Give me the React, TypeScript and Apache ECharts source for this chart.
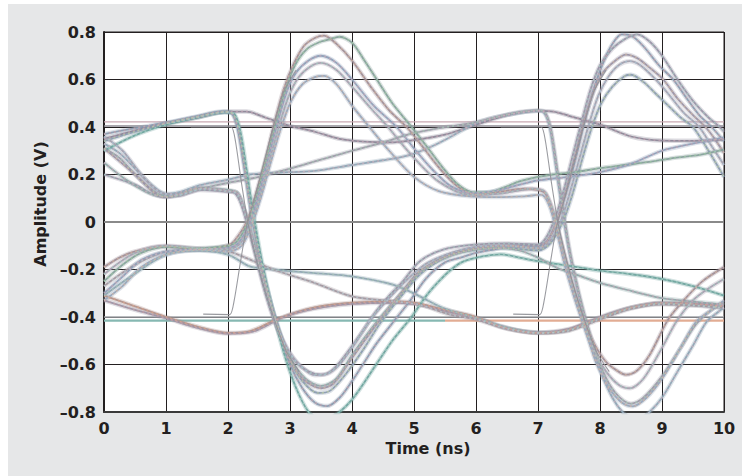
import React, { useEffect, useRef } from 'react';
import * as echarts from 'echarts';

type Pt = [number, number];

// ---- axis ranges / ticks ----
const xMin = 0, xMax = 10, xStep = 1;
const yMin = -0.8, yMax = 0.8, yStep = 0.2;
const xTitle = 'Time (ns)';
const yTitle = 'Amplitude (V)';

// ---- reference lines ----
const zeroLine: Pt[] = [[0, 0], [10, 0]];
const flatHiA: Pt[] = [[0, 0.422], [10, 0.422]];
const flatHiB: Pt[] = [[0, 0.404], [10, 0.404]];
const flatLoA: Pt[] = [[0, -0.4], [10, -0.4]];
const flatLoB1: Pt[] = [[0, -0.415], [5.5, -0.415]];
const flatLoB2: Pt[] = [[5.5, -0.415], [10, -0.415]];

// ---- thin transition traces ----
const thinDown1: Pt[] = [[1.4, 0.4], [2.05, 0.4], [2.12, 0.34], [2.22, 0.16], [2.32, 0.0], [2.47, -0.17], [2.62, -0.31], [2.8, -0.45], [2.95, -0.55], [3.15, -0.63]];
const thinUp1: Pt[] = [[1.6, -0.388], [2.03, -0.39], [2.1, -0.33], [2.2, -0.17], [2.3, -0.02], [2.45, 0.12], [2.6, 0.27], [2.75, 0.42], [2.9, 0.55], [3.1, 0.64]];
const thinDown2: Pt[] = [[6.4, 0.4], [7.05, 0.4], [7.12, 0.34], [7.22, 0.16], [7.32, 0.0], [7.47, -0.17], [7.62, -0.31], [7.8, -0.45], [7.95, -0.55], [8.15, -0.63]];
const thinUp2: Pt[] = [[6.6, -0.388], [7.03, -0.39], [7.1, -0.33], [7.2, -0.17], [7.3, -0.02], [7.45, 0.12], [7.6, 0.27], [7.75, 0.42], [7.9, 0.55], [8.1, 0.64]];

// ---- eye traces ----
const hhStay: Pt[] = [[0, 0.35], [0.5, 0.385], [1, 0.415], [1.5, 0.44], [2, 0.465], [2.3, 0.465], [2.6, 0.44], [3, 0.405], [3.4, 0.38], [3.8, 0.35], [4.2, 0.338], [4.6, 0.335], [5, 0.345], [5.5, 0.368], [6, 0.41], [6.5, 0.45], [7, 0.468], [7.25, 0.465], [7.5, 0.447], [8, 0.41], [8.5, 0.36], [9, 0.343], [9.5, 0.342], [10, 0.347]];
const hhFallA: Pt[] = [[0, 0.37], [0.5, 0.395], [1, 0.418], [1.5, 0.445], [1.9, 0.465], [2.05, 0.46], [2.15, 0.4], [2.25, 0.25], [2.35, 0.08], [2.5, -0.14], [2.65, -0.3], [2.8, -0.44], [3.0, -0.6], [3.2, -0.7], [3.4, -0.76], [3.6, -0.775], [3.8, -0.74], [4.0, -0.67], [4.2, -0.59], [4.4, -0.51], [4.73, -0.4], [4.93, -0.334], [5.2, -0.236], [5.5, -0.17], [5.75, -0.15], [6.0, -0.13], [6.3, -0.115], [6.6, -0.1], [7.0, -0.1], [7.15, -0.08], [7.3, 0.0], [7.45, 0.12], [7.6, 0.26], [7.75, 0.42], [7.9, 0.56], [8.05, 0.67], [8.2, 0.75], [8.35, 0.79], [8.5, 0.785], [8.7, 0.74], [8.95, 0.66], [9.18, 0.6], [9.4, 0.52], [9.6, 0.45], [9.8, 0.4], [10, 0.34]];
const hhFallB: Pt[] = [[0, 0.3], [0.5, 0.365], [1, 0.41], [1.5, 0.44], [1.95, 0.462], [2.1, 0.455], [2.2, 0.38], [2.3, 0.22], [2.4, 0.05], [2.55, -0.17], [2.7, -0.35], [2.9, -0.55], [3.1, -0.7], [3.3, -0.8], [3.5, -0.84], [3.7, -0.82], [4.0, -0.748], [4.39, -0.6], [4.65, -0.5], [4.96, -0.4], [5.2, -0.31], [5.4, -0.25], [5.6, -0.2], [5.8, -0.166], [6.1, -0.145], [6.4, -0.136], [6.7, -0.15], [7.0, -0.165], [7.5, -0.185], [8.0, -0.205], [8.5, -0.22], [9.0, -0.24], [9.5, -0.27], [10, -0.31]];
const hhFallC: Pt[] = [[0, 0.34], [0.5, 0.38], [1, 0.415], [1.5, 0.443], [1.95, 0.463], [2.08, 0.455], [2.17, 0.39], [2.27, 0.23], [2.37, 0.05], [2.5, -0.13], [2.65, -0.3], [2.82, -0.45], [3.0, -0.58], [3.2, -0.67], [3.45, -0.72], [3.65, -0.71], [3.9, -0.64], [4.2, -0.53], [4.47, -0.42], [4.8, -0.31], [5.1, -0.22], [5.5, -0.15], [6.0, -0.115], [6.5, -0.11], [7.0, -0.12], [7.2, -0.09], [7.4, 0], [7.56, 0.12], [7.72, 0.27], [7.87, 0.4], [8.02, 0.5], [8.2, 0.57], [8.4, 0.615], [8.5, 0.62], [8.7, 0.59], [8.9, 0.54], [9.1, 0.49], [9.3, 0.44], [9.5, 0.4], [9.75, 0.3], [10, 0.19]];
const slowRiseA: Pt[] = [[0, 0.33], [0.25, 0.29], [0.5, 0.225], [0.75, 0.16], [1, 0.118], [1.25, 0.128], [1.55, 0.155], [2, 0.178], [2.35, 0.2], [3, 0.21], [3.4, 0.215], [4, 0.24], [4.5, 0.26], [4.94, 0.283], [5.3, 0.32], [5.6, 0.36], [5.95, 0.41], [6.3, 0.44], [6.7, 0.46], [7.0, 0.468], [7.08, 0.465], [7.18, 0.41], [7.28, 0.25], [7.38, 0.07], [7.5, -0.12], [7.65, -0.3], [7.8, -0.45], [8.0, -0.62], [8.2, -0.74], [8.4, -0.81], [8.6, -0.84], [8.8, -0.8], [9.0, -0.74], [9.25, -0.63], [9.5, -0.52], [9.72, -0.42], [9.9, -0.38], [10, -0.36]];
const slowRiseB: Pt[] = [[0, 0.31], [0.25, 0.27], [0.5, 0.2], [0.75, 0.14], [1, 0.105], [1.25, 0.115], [1.55, 0.14], [2, 0.165], [2.5, 0.19], [3, 0.225], [3.4, 0.255], [4, 0.3], [4.5, 0.335], [4.93, 0.37], [5.4, 0.395], [5.9, 0.415], [6.3, 0.44], [6.7, 0.463], [7.0, 0.47], [7.1, 0.465], [7.2, 0.4], [7.3, 0.24], [7.4, 0.06], [7.52, -0.13], [7.68, -0.32], [7.85, -0.48], [8.05, -0.63], [8.25, -0.72], [8.5, -0.765], [8.7, -0.74], [9.0, -0.65], [9.3, -0.53], [9.55, -0.43], [9.8, -0.37], [10, -0.34]];
const dipFallA: Pt[] = [[0, 0.2], [0.5, 0.157], [0.9, 0.108], [1.2, 0.11], [1.55, 0.135], [2, 0.128], [2.12, 0.12], [2.22, 0.07], [2.32, -0.02], [2.45, -0.15], [2.6, -0.3], [2.75, -0.42], [2.9, -0.51], [3.1, -0.59], [3.3, -0.63], [3.5, -0.643], [3.7, -0.62], [4.0, -0.523], [4.2, -0.45], [4.39, -0.376], [4.6, -0.31], [4.82, -0.25], [5.09, -0.166], [5.47, -0.116], [6.0, -0.095], [6.5, -0.09], [7.0, -0.095], [7.12, -0.07], [7.25, 0.0], [7.4, 0.12], [7.55, 0.27], [7.7, 0.42], [7.85, 0.56], [8.0, 0.66], [8.2, 0.73], [8.4, 0.77], [8.6, 0.79], [8.8, 0.76], [9.0, 0.7], [9.25, 0.6], [9.5, 0.51], [9.75, 0.44], [9.93, 0.4], [10, 0.38]];
const dipFallB: Pt[] = [[0, 0.31], [0.5, 0.2], [0.85, 0.115], [1.0, 0.105], [1.25, 0.12], [1.55, 0.143], [2, 0.13], [2.14, 0.125], [2.25, 0.06], [2.35, -0.03], [2.5, -0.18], [2.65, -0.32], [2.8, -0.45], [3.0, -0.58], [3.2, -0.66], [3.5, -0.7], [3.7, -0.68], [4.0, -0.573], [4.2, -0.5], [4.39, -0.432], [4.6, -0.36], [4.82, -0.29], [5.09, -0.208], [5.58, -0.138], [6.0, -0.11], [6.5, -0.1], [7.0, -0.11], [7.15, -0.08], [7.3, 0.0], [7.45, 0.13], [7.6, 0.28], [7.75, 0.43], [7.9, 0.55], [8.05, 0.63], [8.25, 0.68], [8.42, 0.705], [8.6, 0.69], [8.8, 0.65], [9.02, 0.6], [9.25, 0.52], [9.5, 0.45], [9.7, 0.4], [9.85, 0.35], [10, 0.29]];
const dipFallC: Pt[] = [[0, 0.25], [0.4, 0.17], [0.8, 0.115], [1.1, 0.11], [1.5, 0.14], [2, 0.135], [2.16, 0.12], [2.27, 0.05], [2.38, -0.05], [2.52, -0.19], [2.67, -0.33], [2.82, -0.46], [3.0, -0.57], [3.25, -0.66], [3.5, -0.69], [3.75, -0.66], [4.0, -0.56], [4.4, -0.42], [4.8, -0.3], [5.1, -0.21], [5.5, -0.15], [6.0, -0.115], [6.4, -0.11], [6.7, -0.12], [7.0, -0.15], [7.3, -0.192], [7.65, -0.225], [8.0, -0.256], [8.5, -0.29], [8.97, -0.319], [9.5, -0.335], [10, -0.347]];
const dipFallD: Pt[] = [[0, 0.36], [0.3, 0.3], [0.6, 0.2], [0.9, 0.125], [1.2, 0.115], [1.6, 0.14], [2, 0.13], [2.15, 0.12], [2.25, 0.06], [2.35, -0.03], [2.48, -0.17], [2.63, -0.31], [2.78, -0.43], [2.95, -0.53], [3.15, -0.6], [3.4, -0.645], [3.6, -0.64], [3.8, -0.6], [4.0, -0.53], [4.3, -0.41], [4.6, -0.32], [4.9, -0.24], [5.2, -0.175], [5.6, -0.13], [6.0, -0.105], [6.5, -0.1], [7.0, -0.11], [7.18, -0.085], [7.36, 0], [7.52, 0.13], [7.67, 0.27], [7.82, 0.41], [7.97, 0.53], [8.13, 0.61], [8.3, 0.66], [8.48, 0.677], [8.65, 0.66], [8.9, 0.6], [9.1, 0.54], [9.35, 0.46], [9.6, 0.4], [9.8, 0.32], [10, 0.24]];
const lowRiseA: Pt[] = [[0, -0.19], [0.25, -0.15], [0.5, -0.124], [1, -0.102], [1.55, -0.115], [2, -0.098], [2.1, -0.08], [2.3, 0.0], [2.45, 0.12], [2.6, 0.26], [2.75, 0.42], [2.9, 0.56], [3.05, 0.66], [3.22, 0.74], [3.4, 0.775], [3.55, 0.785], [3.75, 0.75], [4.0, 0.68], [4.3, 0.57], [4.6, 0.47], [4.88, 0.4], [5.1, 0.33], [5.4, 0.23], [5.7, 0.15], [6.0, 0.115], [6.33, 0.125], [6.78, 0.14], [7.0, 0.135], [7.12, 0.12], [7.22, 0.06], [7.32, -0.03], [7.45, -0.16], [7.6, -0.3], [7.75, -0.42], [7.9, -0.51], [8.1, -0.59], [8.3, -0.63], [8.42, -0.643], [8.6, -0.625], [8.8, -0.56], [9.1, -0.41], [9.35, -0.33], [9.65, -0.25], [10, -0.19]];
const lowRiseB: Pt[] = [[0, -0.25], [0.3, -0.18], [0.6, -0.13], [1, -0.105], [1.5, -0.11], [2, -0.1], [2.15, -0.08], [2.32, 0.0], [2.47, 0.12], [2.62, 0.27], [2.77, 0.41], [2.92, 0.55], [3.08, 0.66], [3.28, 0.73], [3.5, 0.76], [3.65, 0.77], [3.8, 0.78], [4.0, 0.755], [4.2, 0.68], [4.4, 0.6], [4.65, 0.5], [4.93, 0.41], [5.2, 0.32], [5.47, 0.227], [5.7, 0.16], [5.95, 0.125], [6.2, 0.125], [6.45, 0.145], [6.7, 0.171], [7.0, 0.19], [7.24, 0.2], [7.6, 0.21], [8.0, 0.227], [8.4, 0.24], [8.85, 0.255], [9.2, 0.27], [9.6, 0.283], [10, 0.305]];
const lowRiseC: Pt[] = [[0, -0.3], [0.3, -0.23], [0.6, -0.16], [1, -0.125], [1.5, -0.115], [2, -0.11], [2.18, -0.085], [2.35, 0.0], [2.5, 0.12], [2.65, 0.27], [2.8, 0.42], [2.95, 0.55], [3.1, 0.63], [3.3, 0.68], [3.5, 0.7], [3.75, 0.67], [4.0, 0.6], [4.35, 0.49], [4.72, 0.4], [5.0, 0.31], [5.3, 0.22], [5.6, 0.15], [5.95, 0.122], [6.3, 0.13], [6.6, 0.15], [7.0, 0.175], [7.5, 0.19], [8.0, 0.21], [8.5, 0.245], [9.0, 0.3], [9.5, 0.33], [10, 0.355]];
const lowRiseD: Pt[] = [[0, -0.22], [0.5, -0.13], [1, -0.1], [1.5, -0.11], [2, -0.115], [2.2, -0.09], [2.38, 0.0], [2.53, 0.12], [2.68, 0.27], [2.83, 0.41], [2.98, 0.53], [3.14, 0.61], [3.33, 0.655], [3.5, 0.67], [3.75, 0.64], [4.0, 0.57], [4.3, 0.48], [4.58, 0.4], [4.8, 0.33], [5.0, 0.27], [5.4, 0.17], [5.9, 0.115], [6.4, 0.12], [6.9, 0.14], [7.1, 0.13], [7.2, 0.08], [7.3, 0.0], [7.42, -0.13], [7.57, -0.28], [7.72, -0.41], [7.9, -0.54], [8.1, -0.63], [8.3, -0.685], [8.48, -0.7], [8.7, -0.66], [9.0, -0.53], [9.23, -0.42], [9.5, -0.33], [9.75, -0.28], [10, -0.24]];
const lowRiseE: Pt[] = [[0, -0.33], [0.3, -0.27], [0.6, -0.19], [1, -0.138], [1.55, -0.117], [2, -0.124], [2.22, -0.1], [2.4, 0.0], [2.55, 0.12], [2.7, 0.26], [2.86, 0.4], [3.02, 0.51], [3.2, 0.58], [3.4, 0.61], [3.55, 0.615], [3.75, 0.58], [4.0, 0.49], [4.28, 0.4], [4.6, 0.3], [5.0, 0.19], [5.4, 0.13], [5.9, 0.108], [6.3, 0.105], [6.78, 0.108], [7.05, 0.115], [7.18, 0.07], [7.3, -0.04], [7.45, -0.2], [7.6, -0.33], [7.78, -0.47], [7.95, -0.6], [8.15, -0.7], [8.35, -0.76], [8.53, -0.776], [8.75, -0.74], [9.0, -0.66], [9.3, -0.53], [9.55, -0.42], [9.8, -0.37], [10, -0.33]];
const lowSlowA: Pt[] = [[0, -0.31], [0.47, -0.222], [1, -0.138], [1.5, -0.12], [2, -0.137], [2.35, -0.187], [2.73, -0.2], [3.4, -0.215], [4, -0.229], [4.66, -0.264], [5.04, -0.306], [5.47, -0.362], [6, -0.404], [6.5, -0.445], [7, -0.466], [7.5, -0.455], [8, -0.404], [8.5, -0.362], [9, -0.343], [9.5, -0.35], [10, -0.36]];
const lowSlowB: Pt[] = [[0, -0.27], [0.5, -0.18], [1, -0.125], [1.55, -0.117], [2, -0.124], [2.3, -0.152], [2.73, -0.2], [3.4, -0.257], [4, -0.313], [4.66, -0.334], [5.09, -0.348], [5.58, -0.39], [6, -0.41], [6.5, -0.45], [7, -0.468], [7.5, -0.458], [8, -0.41], [8.5, -0.365], [9, -0.347], [9.5, -0.352], [10, -0.362]];
const llStayA: Pt[] = [[0, -0.31], [0.5, -0.355], [1, -0.4], [1.5, -0.44], [2, -0.467], [2.35, -0.46], [2.84, -0.404], [3.4, -0.36], [4, -0.34], [4.66, -0.335], [5, -0.34], [5.5, -0.37], [6, -0.4], [6.4, -0.44], [7, -0.467], [7.5, -0.453], [8, -0.404], [8.48, -0.362], [9, -0.341], [9.5, -0.345], [10, -0.355]];
const llStayB: Pt[] = [[0, -0.33], [0.5, -0.37], [1, -0.405], [1.5, -0.445], [2, -0.47], [2.4, -0.462], [2.9, -0.4], [3.4, -0.365], [4, -0.345], [4.7, -0.34], [5, -0.345], [5.5, -0.375], [6, -0.405], [6.5, -0.448], [7, -0.465], [7.5, -0.45], [8, -0.4], [8.5, -0.36], [9, -0.34], [10, -0.352]];

// colour of each trace (core) and of its speckle overlay
const traces: { data: Pt[]; color: string; speck: string }[] = [
  { data: llStayA, color: '#b0928c', speck: '#d8a58f' },
  { data: llStayB, color: '#9c94a4', speck: '#c4a1a9' },
  { data: lowSlowA, color: '#8ea4b2', speck: '#a9c6b8' },
  { data: lowSlowB, color: '#a3979f', speck: '#b7c7cf' },
  { data: hhStay, color: '#8b8797', speck: '#c3a6b4' },
  { data: slowRiseA, color: '#8fa5b5', speck: '#c9b2bd' },
  { data: slowRiseB, color: '#9d9aa8', speck: '#a8c6b6' },
  { data: hhFallA, color: '#8a9bb0', speck: '#c8a6ae' },
  { data: hhFallB, color: '#6fa39e', speck: '#a5cfc4' },
  { data: hhFallC, color: '#8b9cb0', speck: '#b9c9a8' },
  { data: dipFallA, color: '#9a95a8', speck: '#a8c6c0' },
  { data: dipFallB, color: '#9b94a6', speck: '#c9b4a4' },
  { data: dipFallC, color: '#8fa8a8', speck: '#c4a8b8' },
  { data: dipFallD, color: '#a3a0ae', speck: '#a9c2d2' },
  { data: lowRiseA, color: '#a08f98', speck: '#cfb0a0' },
  { data: lowRiseB, color: '#87a09c', speck: '#9fc7a5' },
  { data: lowRiseC, color: '#8fa0b8', speck: '#c6aab8' },
  { data: lowRiseD, color: '#a8a0b0', speck: '#a6c8c0' },
  { data: lowRiseE, color: '#98a7bb', speck: '#d0b6a8' },
];

const FONT = 'DejaVu Sans';

export default function App() {
  const ref = useRef<HTMLDivElement>(null);
  useEffect(() => {
    if (!ref.current) return;
    const chart = echarts.init(ref.current, undefined, { renderer: 'svg' });

    const simple = (data: Pt[], color: string, width: number, z = 2, opacity = 1, type: any = 'solid') => ({
      type: 'line', data, showSymbol: false, symbol: 'none', silent: true, z,
      lineStyle: { color, width, opacity, type }, emphasis: { disabled: true }, clip: true,
    });

    const series: any[] = [
      simple(zeroLine, '#8a8a8a', 2.2, 1),
      simple(flatHiA, '#c9a8b2', 1.3, 2),
      simple(flatHiB, '#8e8b93', 1.6, 2),
      simple(flatLoA, '#a2a4a8', 1.3, 2),
      simple(flatLoB1, '#86b8b2', 2.2, 2),
      simple(flatLoB2, '#e2ac93', 2.2, 2),
    ];
    traces.forEach((t) => {
      series.push({ ...simple(t.data, t.color, 4.4, 3, 0.3), smooth: 0.3 });
      series.push({ ...simple(t.data, t.color, 1.8, 4, 0.95), smooth: 0.3 });
      series.push({ ...simple(t.data, t.speck, 1.6, 5, 0.75, [2, 3]), smooth: 0.3 });
    });
    [thinDown1, thinUp1, thinDown2, thinUp2].forEach((d) => {
      series.push({ ...simple(d, '#8f9096', 1.1, 6, 0.9), smooth: 0.2 });
    });

    const labelStyle = { fontFamily: FONT, fontWeight: 'bold', fontSize: 16, color: '#231f20' };

    chart.setOption({
      animation: false,
      grid: {
        left: 104, top: 32, width: 620, height: 380, show: true,
        backgroundColor: '#ffffff', borderColor: '#231f20', borderWidth: 1,
        outerBoundsMode: 'none',
      },
      xAxis: {
        type: 'value', min: xMin, max: xMax, interval: xStep,
        axisLine: { show: true, onZero: false, lineStyle: { color: '#3a3a3a', width: 2 } },
        axisTick: { show: false },
        splitLine: { show: true, lineStyle: { color: '#231f20', width: 1 } },
        axisLabel: { ...labelStyle, margin: 8 },
      },
      yAxis: {
        type: 'value', min: yMin, max: yMax, interval: yStep,
        axisLine: { show: true, lineStyle: { color: '#231f20', width: 2 } },
        axisTick: { show: false },
        splitLine: { show: true, lineStyle: { color: '#231f20', width: 1 } },
        axisLabel: {
          ...labelStyle, margin: 8,
          formatter: (v: number) => (Math.abs(v) < 1e-9 ? '0' : (v < 0 ? '\u2013' : '') + Math.abs(v).toFixed(1)),
        },
      },
      graphic: [
        {
          type: 'text', x: 428, y: 448,
          style: { text: xTitle, font: `bold 16px "${FONT}"`, fill: '#231f20', textAlign: 'center', textVerticalAlign: 'middle' },
        },
        {
          type: 'text', x: 40, y: 204, rotation: Math.PI / 2,
          style: { text: yTitle, font: `bold 16px "${FONT}"`, fill: '#231f20', textAlign: 'center', textVerticalAlign: 'middle' },
        },
      ],
      series,
    });
    return () => chart.dispose();
  }, []);

  return (
    <div style={{ position: 'absolute', left: 0, top: 0, width: 750, height: 476, background: '#ffffff', overflow: 'hidden' }}>
      <div style={{ position: 'absolute', left: 8, top: 4, width: 734, height: 472, background: '#e6e7e8' }} />
      <div ref={ref} style={{ position: 'absolute', left: 0, top: 0, width: 750, height: 476 }} />
    </div>
  );
}
